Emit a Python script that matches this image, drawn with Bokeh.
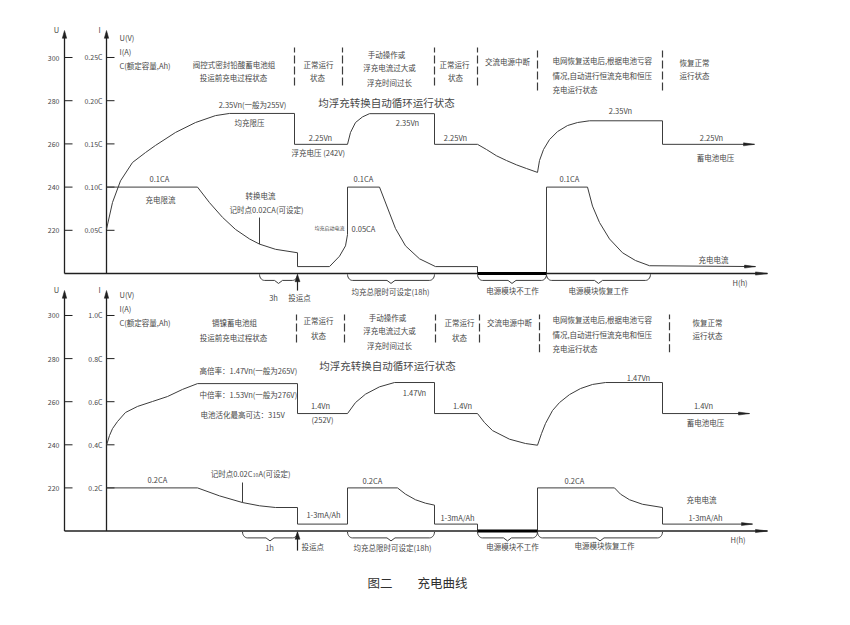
import numpy as np
from bokeh.plotting import figure
from bokeh.models import Range1d
from bokeh.core.properties import value
from bokeh.embed import file_html
from bokeh.resources import INLINE

# ---------------- data ----------------
u_ticks = [220, 240, 260, 280, 300]
u_tick_labels = ["220", "240", "260", "280", "300"]
top_i_ticks = [0.05, 0.10, 0.15, 0.20, 0.25]
top_i_labels = ["0.05C", "0.10C", "0.15C", "0.20C", "0.25C"]
bot_i_ticks = [0.2, 0.4, 0.6, 0.8, 1.0]
bot_i_labels = ["0.2C", "0.4C", "0.6C", "0.8C", "1.0C"]

# top chart: lead-acid battery, voltage (V) and current (C)
top_u_t = [0, 0.6, 1.4, 2.6, 3.9, 4.9, 6.9, 8.9, 10.9, 12.3, 18.8, 18.8, 24.1, 24.4, 24.9,
           25.6, 26.3, 32.8, 32.8, 37.1, 38.0, 39.0, 40.0, 41.0, 42.0, 43.1, 43.3, 43.7,
           44.3, 45.1, 46.1, 47.1, 48.3, 55.6, 55.6, 64.8]
top_u_v = [220.5, 232.9, 242.9, 251.4, 256.0, 259.3, 265.3, 269.9, 273.1, 274.1, 274.1, 259.8,
           259.8, 265.3, 269.9, 272.5, 274.0, 274.0, 259.8, 259.8, 257.4, 254.5, 252.3, 250.3,
           248.6, 246.8, 252.3, 257.4, 262.0, 265.7, 268.5, 269.9, 270.7, 270.7, 259.8, 259.8]
top_i_t = [0, 9.1, 10.3, 11.6, 12.9, 14.3, 15.3, 16.9, 19.1, 19.1, 22.3, 23.3, 23.9, 24.1,
           24.1, 27.3, 27.8, 28.3, 28.9, 29.9, 31.3, 32.9, 37.1, 37.1, 44.0, 44.0, 48.1, 48.6,
           49.3, 50.3, 51.6, 52.9, 54.3, 64.9]
top_i_v = [0.1, 0.1, 0.082, 0.065, 0.051, 0.040, 0.034, 0.028, 0.024, 0.008, 0.008, 0.020,
           0.032, 0.045, 0.1, 0.1, 0.085, 0.07, 0.052, 0.032, 0.017, 0.008, 0.008, 0.0, 0.0,
           0.1, 0.1, 0.078, 0.059, 0.040, 0.024, 0.015, 0.009, 0.008]
top_off = [37.1, 44.0]
top_brace_from = [15.3, 24.1, 37.1, 44.0]
top_brace_to = [19.1, 32.8, 44.0, 54.4]
top_sep = [18.8, 23.6, 32.8, 37.1, 43.1, 55.6]
top_commission = 19.1

# bottom chart: Ni-Cd battery
bot_u_t = [0, 0.3, 0.6, 1.1, 1.9, 3.1, 4.6, 6.1, 7.6, 9.1, 19.1, 19.1, 24.1, 24.9, 25.9, 27.3,
           28.8, 32.8, 32.8, 37.1, 37.8, 38.6, 40.3, 41.9, 43.1, 43.5, 43.9, 44.6, 45.3, 46.3,
           47.4, 48.6, 49.9, 55.6, 55.6, 64.3]
bot_u_v = [239.8, 244.3, 247.5, 250.8, 255.0, 257.8, 260.1, 262.4, 265.7, 268.4, 268.4, 254.5,
           254.5, 259.6, 263.5, 266.9, 268.9, 268.9, 254.5, 254.5, 250.3, 246.6, 242.6, 240.6,
           239.8, 245.2, 249.9, 255.9, 259.6, 263.3, 266.1, 268.0, 268.9, 268.9, 254.5, 254.5]
bot_i_t = [0, 9.1, 11.3, 13.6, 15.3, 16.9, 19.1, 19.1, 24.1, 24.1, 29.1, 29.9, 30.9, 31.9, 32.8,
           32.8, 37.1, 37.1, 43.1, 43.1, 50.8, 51.4, 52.3, 53.6, 55.6, 55.6, 64.6]
bot_i_v = [0.2, 0.2, 0.163, 0.132, 0.117, 0.109, 0.109, 0.032, 0.032, 0.2, 0.2, 0.171, 0.145,
           0.129, 0.120, 0.032, 0.032, 0.0, 0.0, 0.2, 0.2, 0.171, 0.145, 0.124, 0.109, 0.032,
           0.032]
bot_off = [37.1, 43.1]
bot_brace_from = [13.6, 24.1, 37.1, 43.1]
bot_brace_to = [19.1, 32.8, 43.1, 55.6]
bot_sep = [19.0, 23.8, 32.9, 37.3, 43.3, 56.3]
bot_commission = 19.1

# ---------------- figure ----------------
FONT = "Noto Sans CJK SC"
INK = "#3c3c3c"
TXT = "#474747"

p = figure(width=834, height=605, output_backend="svg", toolbar_location=None,
           x_range=Range1d(-10.6, 72.8), y_range=Range1d(165.43, 446.17),
           x_axis_location=None, y_axis_location=None, min_border=0,
           outline_line_color=None, background_fill_color="white",
           border_fill_color="white")
p.grid.visible = False
p.extra_y_ranges = {
    "utop": Range1d(46.30, 326.39),
    "itop": Range1d(-0.38426, 0.31597),
    "ibot": Range1d(-0.3457, 2.4617),
}
D = "default"
U_AX, I_AX = -4.2, 0.0


def T(x, y, s, size=7.5, align="center", rng=D, color=TXT):
    p.text(x=[x], y=[y], text=[s], text_font=value(FONT), text_font_size=f"{size}px",
           text_align=align, text_baseline="middle", text_color=color, y_range_name=rng)


def vhead(x, ytip, L, rng, hw=0.22):
    p.patch([x, x - hw, x + hw], [ytip, ytip - L, ytip - L], y_range_name=rng,
            fill_color="#202020", line_color="#202020", line_width=0.5)


def hhead(x, y, hw, rng, L=1.1):
    p.patch([x, x - L, x - L], [y, y + hw, y - hw], y_range_name=rng,
            fill_color="#202020", line_color="#202020", line_width=0.5)


def brace(x0, x1, yb, rng, d=2.8, tip=1.4, r=0.5):
    th1 = np.linspace(np.pi, 1.5 * np.pi, 8)
    th2 = np.linspace(1.5 * np.pi, 2 * np.pi, 8)
    mid = (x0 + x1) / 2
    xs = list(x0 + r + r * np.cos(th1)) + [mid - 0.4, mid, mid + 0.4] + list(x1 - r + r * np.cos(th2))
    ys = list(yb + d * np.sin(th1)) + [yb - d, yb - d - tip, yb - d] + list(yb + d * np.sin(th2))
    p.line(xs, ys, y_range_name=rng, line_color=INK, line_width=1)


def axes(urng, irng, i_ticks, i_labels, top):
    # baseline (time axis)
    p.line([U_AX, 66.1], [200, 200], y_range_name=urng, line_color="#202020", line_width=1.3)
    hhead(66.1, 200, 0.75, urng, L=1.2)
    for xa in (U_AX, I_AX):
        p.line([xa, xa], [200, top - 1], y_range_name=urng, line_color="#202020", line_width=1.3)
        vhead(xa, top, 3.6, urng)
    # U ticks
    p.segment(x0=[U_AX] * 5, y0=u_ticks, x1=[U_AX + 0.8] * 5, y1=u_ticks, y_range_name=urng,
              line_color="#202020", line_width=1)
    p.text(x=[U_AX - 0.5] * 5, y=u_ticks, text=u_tick_labels, text_font=value(FONT),
           text_font_size="7px", text_align="right", text_baseline="middle",
           text_color=TXT, y_range_name=urng)
    # I ticks
    p.segment(x0=[I_AX] * 5, y0=i_ticks, x1=[I_AX + 0.8] * 5, y1=i_ticks, y_range_name=irng,
              line_color="#202020", line_width=1)
    p.text(x=[I_AX - 0.4] * 5, y=i_ticks, text=i_labels, text_font=value(FONT),
           text_font_size="7px", text_align="right", text_baseline="middle",
           text_color=TXT, y_range_name=irng)
    T(U_AX - 0.8, top + 0.6, "U", size=7.5, rng=urng)
    T(I_AX - 0.7, top + 0.6, "I", size=7.5, rng=urng)


# ---------- top chart ----------
axes("utop", "itop", top_i_ticks, top_i_labels, 312.5)
p.line(top_u_t, top_u_v, y_range_name="utop", line_color=INK, line_width=1)
hhead(top_u_t[-1], top_u_v[-1], 0.7, "utop")
p.line(top_i_t, top_i_v, y_range_name="itop", line_color=INK, line_width=1)
hhead(top_i_t[-1], top_i_v[-1], 0.0017, "itop")
p.line(top_off, [0, 0], y_range_name="itop", line_color="black", line_width=3)
for a, b in zip(top_brace_from, top_brace_to):
    brace(a, b, 199.6, "utop")
for i, s in enumerate(top_sep):
    y0, y1 = (287.0, 304.6) if i < 4 else (284.7, 303.2)
    p.line([s, s], [y0, y1], y_range_name="utop", line_color=INK, line_width=1.2,
           line_dash="8 3")
p.line([top_commission, top_commission], [192.1, 198.0], y_range_name="utop",
       line_color="#202020", line_width=1.2)
vhead(top_commission, 199.6, 3.4, "utop", hw=0.25)
p.line([15.3, 15.3], [213.6, 225.9], y_range_name="utop", line_color=INK, line_width=1)

R = "utop"
T(1.3, 309.3, "U(V)", align="left", rng=R)
T(1.3, 302.8, "I(A)", align="left", rng=R)
T(1.3, 296.3, "C(额定容量,Ah)", align="left", rng=R)
T(12.75, 296.9, "阀控式密封铅酸蓄电池组", rng=R)
T(12.7, 290.7, "投运前充电过程状态", rng=R)
T(21.2, 296.9, "正常运行", rng=R)
T(21.1, 290.7, "状态", rng=R)
T(28.0, 301.5, "手动操作或", rng=R)
T(28.3, 295.4, "浮充电流过大或", rng=R)
T(28.3, 288.4, "浮充时间过长", rng=R)
T(34.8, 296.9, "正常运行", rng=R)
T(34.9, 290.7, "状态", rng=R)
T(40.1, 298.0, "交流电源中断", rng=R)
T(44.6, 298.5, "电网恢复送电后,根据电池亏容", align="left", rng=R)
T(44.6, 291.5, "情况,自动进行恒流充电和恒压", align="left", rng=R)
T(44.6, 285.3, "充电运行状态", align="left", rng=R)
T(57.3, 297.7, "恢复正常", align="left", rng=R)
T(57.3, 291.5, "运行状态", align="left", rng=R)
T(28.0, 279.2, "均浮充转换自动循环运行状态", size=10.5, rng=R)
T(14.6, 278.4, "2.35Vn(一般为255V)", rng=R)
T(14.3, 269.9, "均充限压", rng=R)
T(21.4, 263.0, "2.25Vn", rng=R)
T(18.5, 256.0, "浮充电压 (242V)", align="left", rng=R)
T(30.1, 269.9, "2.35Vn", rng=R)
T(34.9, 263.0, "2.25Vn", rng=R)
T(51.4, 275.5, "2.35Vn", rng=R)
T(60.5, 263.0, "2.25Vn", rng=R)
T(60.9, 253.7, "蓄电池电压", rng=R)
T(5.3, 244.0, "0.1CA", rng=R)
T(5.4, 234.4, "充电限流", rng=R)
T(15.4, 236.0, "转换电流", rng=R)
T(16.0, 229.6, "记时点0.02CA(可设定)", rng=R)
T(23.8, 221.3, "均充启动电流", size=5, align="right", rng=R)
T(24.5, 220.8, "0.05CA", align="left", rng=R)
T(25.7, 244.0, "0.1CA", rng=R)
T(46.3, 244.0, "0.1CA", rng=R)
T(60.7, 206.6, "充电电流", rng=R)
T(16.7, 188.9, "3h", rng=R)
T(19.3, 188.9, "投运点", rng=R)
T(28.4, 191.7, "均充总限时可设定(18h)", rng=R)
T(40.6, 192.1, "电源模块不工作", rng=R)
T(49.2, 192.1, "电源模块恢复工作", rng=R)
T(62.6, 195.8, "H(h)", align="left", rng=R)

# ---------- bottom chart ----------
axes(D, "ibot", bot_i_ticks, bot_i_labels, 311.6)
p.line(bot_u_t, bot_u_v, line_color=INK, line_width=1)
hhead(bot_u_t[-1], bot_u_v[-1], 0.7, D)
p.line(bot_i_t, bot_i_v, y_range_name="ibot", line_color=INK, line_width=1)
hhead(bot_i_t[-1], bot_i_v[-1], 0.007, "ibot")
p.line(bot_off, [0, 0], y_range_name="ibot", line_color="black", line_width=3)
for a, b in zip(bot_brace_from, bot_brace_to):
    brace(a, b, 199.6, D)
for i, s in enumerate(bot_sep):
    y0, y1 = (287.5, 300.5) if i < 4 else (282.9, 300.5)
    p.line([s, s], [y0, y1], line_color=INK, line_width=1.2, line_dash="8 3")
p.line([bot_commission, bot_commission], [190.9, 198.0], line_color="#202020", line_width=1.2)
vhead(bot_commission, 199.6, 3.4, D, hw=0.25)
p.line([13.6, 13.6], [213.2, 222.5], line_color=INK, line_width=1)

T(1.3, 309.7, "U(V)", align="left")
T(1.3, 303.2, "I(A)", align="left")
T(1.3, 296.8, "C(额定容量,Ah)", align="left")
T(12.8, 296.8, "镉镍蓄电池组")
T(12.7, 289.8, "投运前充电过程状态")
T(21.2, 297.5, "正常运行")
T(21.2, 290.7, "状态")
T(28.1, 299.1, "手动操作或")
T(28.3, 293.0, "浮充电流过大或")
T(28.3, 286.1, "浮充时间过长")
T(35.3, 296.8, "正常运行")
T(35.3, 289.8, "状态")
T(40.3, 296.8, "交流电源中断")
T(44.6, 298.3, "电网恢复送电后,根据电池亏容", align="left")
T(44.6, 291.3, "情况,自动进行恒流充电和恒压", align="left")
T(44.6, 284.8, "充电运行状态", align="left")
T(60.1, 296.8, "恢复正常")
T(60.1, 290.6, "运行状态")
T(28.1, 276.8, "均浮充转换自动循环运行状态", size=10.5)
T(9.3, 274.3, "高倍率：1.47Vn(一般为265V)", align="left")
T(9.3, 263.5, "中倍率：1.53Vn(一般为276V)", align="left")
T(9.4, 254.2, "电池活化最高可达：315V", align="left")
T(21.4, 258.1, "1.4Vn")
T(21.6, 251.7, "(252V)")
T(30.8, 264.3, "1.47Vn")
T(35.6, 258.2, "1.4Vn")
T(53.2, 271.2, "1.47Vn")
T(59.7, 258.2, "1.4Vn")
T(59.9, 250.3, "蓄电池电压")
T(5.1, 223.9, "0.2CA")
T(14.6, 226.8, "记时点0.02C", align="right")
T(14.62, 225.9, "10", size=5, align="left")
T(15.2, 226.8, "A(可设定)", align="left")
T(21.7, 207.8, "1-3mA/Ah")
T(26.6, 223.4, "0.2CA")
T(35.1, 206.3, "1-3mA/Ah")
T(46.8, 223.4, "0.2CA")
T(59.5, 214.8, "充电电流")
T(59.9, 206.3, "1-3mA/Ah")
T(16.3, 192.3, "1h")
T(19.5, 192.8, "投运点", align="left")
T(28.6, 192.3, "均充总限时可设定(18h)")
T(40.6, 192.8, "电源模块不工作")
T(49.8, 193.4, "电源模块恢复工作")
T(62.4, 196.1, "H(h)", align="left")

# caption
T(31.1, 176.1, "图二　　充电曲线", size=12.5, color="#303030")

open("out.html", "w").write(file_html(p, INLINE))
